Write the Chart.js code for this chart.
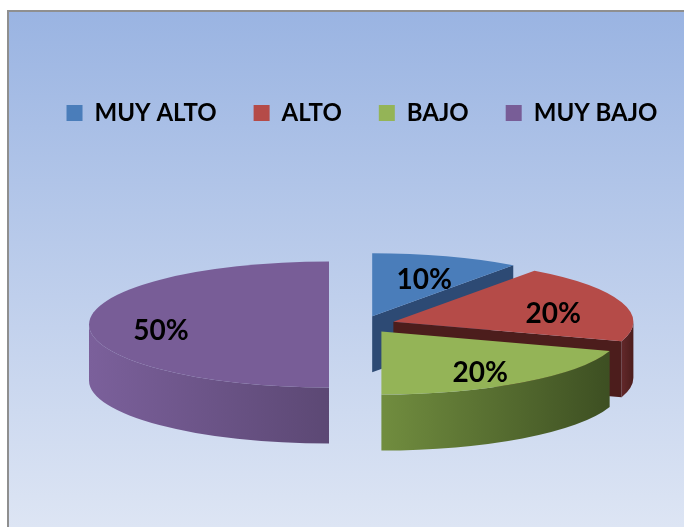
<!DOCTYPE html>
<html>
<head>
<meta charset="utf-8">
<script src="https://cdn.jsdelivr.net/npm/chart.js@4"></script>
<style>
html, body { margin: 0; padding: 0; background: #fff; overflow: hidden; }
#marco {
    position: absolute; left: 7px; top: 10px; width: 706px; height: 515px;
    border-left: 2px solid #8f8f8f; border-top: 2px solid #8f8f8f;
    background: linear-gradient(#9ab4e2, #dde5f4);
}
#marco canvas { display: block; }
</style>
</head>
<body>
<div id="marco"><canvas id="myChart" width="706" height="515"></canvas></div>
<script>
// datos del grafico
var categorias = ['MUY ALTO', 'ALTO', 'BAJO', 'MUY BAJO'];
var porcentajes = [10, 20, 20, 50];
var etiquetas = ['10%', '20%', '20%', '50%'];

var colores = ['#4a7dba', '#b54b48', '#94b457', '#785d97'];
var laterales = [['#34578a', '#2d4a74'], ['#62282a', '#4c1d1c'], ['#718d3f', '#3d4f22'], ['#7b609b', '#5c4874']];

// aspecto 3D
var INCLINACION = 0.2625;
var GROSOR = 56;
var SEPARACION = 33;

var fuente = 'bold 28px Lato';

var pie3d = {
    id: 'pie3d',
    beforeDatasetsDraw: function(chart) {
        var c = chart.ctx;
        var arcs = chart.getDatasetMeta(0).data;
        var centros = [];
        arcs.forEach(function(arc, i) {
            var mid = (arc.startAngle + arc.endAngle) / 2;
            var R = arc.outerRadius;
            var ry = R * INCLINACION;
            var cx = arc.x + SEPARACION * Math.cos(mid);
            var cy = arc.y + SEPARACION * Math.sin(mid) * INCLINACION;
            centros.push([cx, cy, mid, R]);
            var pt = function(a) { return [cx + R * Math.cos(a), cy + ry * Math.sin(a)]; };
            var cara = function(a) {
                var p = pt(a);
                c.beginPath();
                c.moveTo(cx, cy);
                c.lineTo(p[0], p[1]);
                c.lineTo(p[0], p[1] + GROSOR);
                c.lineTo(cx, cy + GROSOR);
                c.closePath();
                c.fillStyle = laterales[i][1];
                c.fill();
            };
            // caras de corte visibles
            if (Math.cos(arc.endAngle) > 0.001) cara(arc.endAngle);
            if (Math.cos(arc.startAngle) < -0.001) cara(arc.startAngle);
            // pared frontal
            var a1 = Math.max(arc.startAngle, 0), a2 = Math.min(arc.endAngle, Math.PI);
            if (a2 > a1) {
                var p1 = pt(a1), p2 = pt(a2);
                c.beginPath();
                c.ellipse(cx, cy, R, ry, 0, a1, a2);
                c.lineTo(p2[0], p2[1] + GROSOR);
                c.ellipse(cx, cy + GROSOR, R, ry, 0, a2, a1, true);
                c.closePath();
                var g = c.createLinearGradient(Math.min(p1[0], p2[0]), 0, Math.max(p1[0], p2[0]), 0);
                g.addColorStop(0, laterales[i][0]);
                g.addColorStop(1, laterales[i][1]);
                c.fillStyle = g;
                c.fill();
            }
            // cara superior
            c.save();
            c.translate(cx, cy);
            c.scale(1, INCLINACION);
            c.translate(-arc.x, -arc.y);
            arc.draw(c);
            c.restore();
        });
        // etiquetas
        c.save();
        c.font = fuente;
        c.fillStyle = '#000';
        c.textAlign = 'center';
        c.textBaseline = 'middle';
        centros.forEach(function(p, i) {
            var r = p[3] * 0.7;
            c.fillText(etiquetas[i], p[0] + r * Math.cos(p[2]), p[1] + r * Math.sin(p[2]) * INCLINACION + 6);
        });
        c.restore();
        return false;
    }
};

var ctx = document.getElementById('myChart');
var myChart = new Chart(ctx, {
    type: 'pie',
    data: {
        labels: categorias,
        datasets: [{
            data: porcentajes,
            backgroundColor: colores,
            borderWidth: 0,
            radius: 240
        }]
    },
    plugins: [pie3d],
    options: {
        responsive: false,
        animation: false,
        events: [],
        layout: { padding: { top: 52, left: 0, right: 0, bottom: 13 } },
        plugins: {
            legend: {
                position: 'top',
                labels: {
                    boxWidth: 16,
                    boxHeight: 16,
                    padding: 37,
                    color: '#000',
                    font: { family: 'Lato', size: 24, weight: 'bold' }
                }
            },
            tooltip: { enabled: false }
        }
    }
});
</script>
</body>
</html>
